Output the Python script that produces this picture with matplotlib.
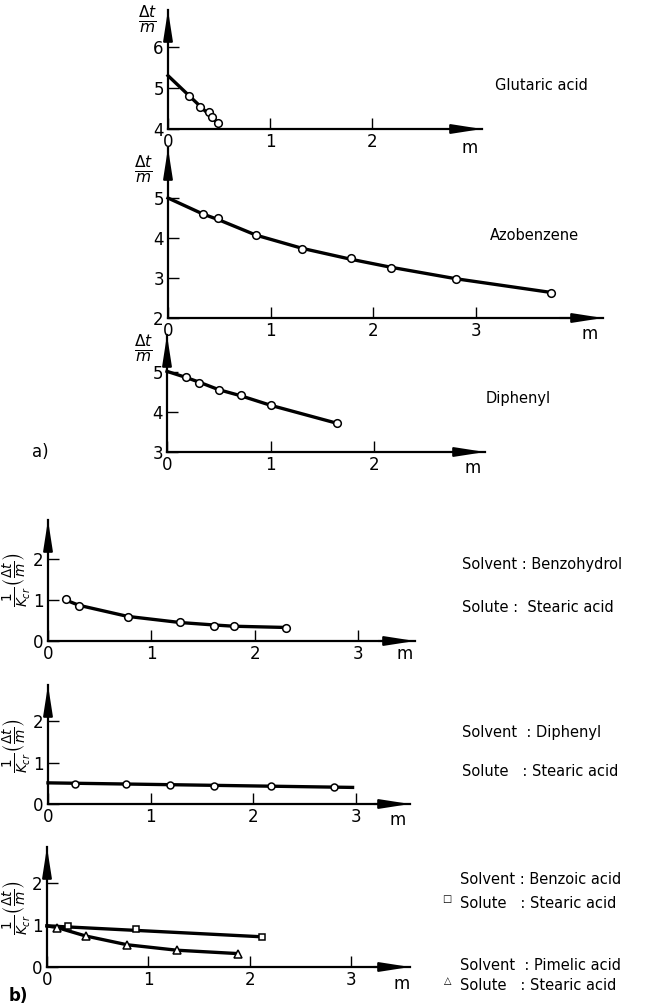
import numpy as np
import matplotlib
matplotlib.use('Agg')
import matplotlib.pyplot as plt

plt.rcParams['font.family'] = 'DejaVu Sans'
plt.rcParams['mathtext.fontset'] = 'dejavusans'

W, H = 661, 1007

# a) Glutaric acid
glu_m = [0.21, 0.31, 0.40, 0.43, 0.49]
glu_y = [4.80, 4.54, 4.41, 4.29, 4.15]
glu_line_m = [0.0, 0.50]
glu_line_y = [5.30, 4.12]

# a) Azobenzene
azo_m = [0.34, 0.49, 0.86, 1.31, 1.78, 2.17, 2.81, 3.73]
azo_y = [4.59, 4.49, 4.08, 3.73, 3.49, 3.26, 2.97, 2.63]
azo_line_m = [0.0, 0.34, 0.49, 0.86, 1.31, 1.78, 2.17, 2.81, 3.73]
azo_line_y = [5.00, 4.60, 4.46, 4.07, 3.74, 3.47, 3.27, 2.98, 2.64]

# a) Diphenyl
dip_m = [0.18, 0.31, 0.50, 0.71, 1.00, 1.64]
dip_y = [4.88, 4.74, 4.56, 4.43, 4.17, 3.72]
dip_line_m = [0.0, 0.18, 0.31, 0.50, 0.71, 1.00, 1.64]
dip_line_y = [5.02, 4.87, 4.75, 4.56, 4.41, 4.17, 3.72]

# b) Benzohydrol / stearic acid
bzh_m = [0.17, 0.30, 0.77, 1.28, 1.61, 1.80, 2.30]
bzh_y = [1.02, 0.85, 0.59, 0.46, 0.37, 0.37, 0.32]
bzh_line_m = [0.17, 0.30, 0.77, 1.28, 1.61, 1.80, 2.30]
bzh_line_y = [1.00, 0.87, 0.60, 0.45, 0.39, 0.36, 0.33]

# b) Diphenyl / stearic acid
dps_m = [0.26, 0.76, 1.19, 1.62, 2.17, 2.79]
dps_y = [0.48, 0.49, 0.47, 0.43, 0.43, 0.40]
dps_line_m = [0.0, 2.97]
dps_line_y = [0.51, 0.40]

# b) Benzoic acid / stearic acid (squares)
bzo_m = [0.21, 0.88, 2.12]
bzo_y = [0.98, 0.90, 0.72]
bzo_line_m = [0.0, 2.12]
bzo_line_y = [0.98, 0.72]

# b) Pimelic acid / stearic acid (triangles)
pim_m = [0.10, 0.38, 0.79, 1.28, 1.88]
pim_y = [0.94, 0.74, 0.52, 0.40, 0.32]
pim_line_m = [0.0, 0.10, 0.38, 0.79, 1.28, 1.88]
pim_line_y = [0.98, 0.94, 0.74, 0.53, 0.40, 0.32]

fig = plt.figure(figsize=(W / 100, H / 100), dpi=100)

HEAD = '-|>,head_length=1.8,head_width=0.28'


def panel(x0, yax, xtip, ytip, xmax, ymin, ymax, xticks, yticks):
    ax = fig.add_axes([x0 / W, 1 - yax / H, (xtip - x0) / W, (yax - ytip) / H])
    ax.set_xlim(0, xmax)
    ax.set_ylim(ymin, ymax)
    for s in ['top', 'right']:
        ax.spines[s].set_visible(False)
    for s in ['left', 'bottom']:
        ax.spines[s].set_linewidth(1.6)
    ax.set_xticks(xticks)
    ax.set_yticks(yticks)
    ax.tick_params(direction='in', length=8, width=1, labelsize=12, pad=3)
    ax.patch.set_alpha(0)
    # arrow heads at the ends of both axes
    ax.annotate('', xy=(1, 0), xytext=(0.9, 0), xycoords='axes fraction',
                arrowprops=dict(arrowstyle=HEAD, color='black', lw=1.5,
                                shrinkA=0, shrinkB=0),
                annotation_clip=False)
    ax.annotate('', xy=(0, 1), xytext=(0, 0.85), xycoords='axes fraction',
                arrowprops=dict(arrowstyle=HEAD, color='black', lw=1.5,
                                shrinkA=0, shrinkB=0),
                annotation_clip=False)
    return ax


def curve(ax, lm, ly, pm, py, marker='o', ms=5.5):
    ax.plot(lm, ly, color='black', lw=2.4, clip_on=False)
    ax.plot(pm, py, marker, color='black', mfc='white', mew=1.1, ms=ms,
            ls='none', clip_on=False, zorder=3)


def ftext(x, y, s, **kw):
    fig.text(x / W, 1 - y / H, s, va='center', **kw)


dtm = r'$\frac{\Delta t}{m}$'

# ---- a) panels
ax1 = panel(168, 129, 482, 10, 3.08, 4, 6.9, [0, 1, 2], [4, 5, 6])
curve(ax1, glu_line_m, glu_line_y, glu_m, glu_y)
ftext(148, 20, dtm, fontsize=16, ha='center')
ftext(470, 148, 'm', fontsize=12, ha='center')
ftext(495, 86, 'Glutaric acid', fontsize=10.5, ha='left')

ax2 = panel(168, 318, 603, 148, 4.24, 2, 6.25, [0, 1, 2, 3], [2, 3, 4, 5])
curve(ax2, azo_line_m, azo_line_y, azo_m, azo_y)
ftext(144, 170, dtm, fontsize=16, ha='center')
ftext(590, 334, 'm', fontsize=12, ha='center')
ftext(490, 235, 'Azobenzene', fontsize=10.5, ha='left')

ax3 = panel(167, 452, 485, 335, 3.07, 3, 5.93, [0, 1, 2], [3, 4, 5])
curve(ax3, dip_line_m, dip_line_y, dip_m, dip_y)
ftext(144, 349, dtm, fontsize=16, ha='center')
ftext(473, 468, 'm', fontsize=12, ha='center')
ftext(486, 398, 'Diphenyl', fontsize=10.5, ha='left')
ftext(40, 452, 'a)', fontsize=12, ha='center')

# ---- b) panels
ylab_b = r'$\frac{1}{K_{cr}}\left(\frac{\Delta t}{m}\right)$'

ax4 = panel(48, 641, 415, 520, 3.55, 0, 2.95, [0, 1, 2, 3], [0, 1, 2])
curve(ax4, bzh_line_m, bzh_line_y, bzh_m, bzh_y)
ftext(17, 580, ylab_b, fontsize=14, ha='center', rotation=90)
ftext(405, 654, 'm', fontsize=12, ha='center')
ftext(462, 565, 'Solvent : Benzohydrol', fontsize=10.5, ha='left')
ftext(462, 607, 'Solute :  Stearic acid', fontsize=10.5, ha='left')

ax5 = panel(48, 804, 410, 685, 3.53, 0, 2.87, [0, 1, 2, 3], [0, 1, 2])
curve(ax5, dps_line_m, dps_line_y, dps_m, dps_y, ms=5)
ftext(17, 746, ylab_b, fontsize=14, ha='center', rotation=90)
ftext(398, 820, 'm', fontsize=12, ha='center')
ftext(462, 732, 'Solvent  : Diphenyl', fontsize=10.5, ha='left')
ftext(462, 772, 'Solute   : Stearic acid', fontsize=10.5, ha='left')

ax6 = panel(47, 967, 410, 847, 3.58, 0, 2.86, [0, 1, 2, 3], [0, 1, 2])
curve(ax6, bzo_line_m, bzo_line_y, bzo_m, bzo_y, marker='s', ms=5)
curve(ax6, pim_line_m, pim_line_y, pim_m, pim_y, marker='^', ms=6)
ftext(17, 908, ylab_b, fontsize=14, ha='center', rotation=90)
ftext(402, 984, 'm', fontsize=12, ha='center')
ftext(18, 996, 'b)', fontsize=12, ha='center', fontweight='bold')
ftext(460, 880, 'Solvent : Benzoic acid', fontsize=10.5, ha='left')
ftext(460, 904, 'Solute   : Stearic acid', fontsize=10.5, ha='left')
ftext(460, 965, 'Solvent  : Pimelic acid', fontsize=10.5, ha='left')
ftext(460, 986, 'Solute   : Stearic acid', fontsize=10.5, ha='left')
ftext(447, 899, '\u25a1', fontsize=7, ha='center')
ftext(448, 981, '\u25b3', fontsize=7, ha='center')

fig.savefig('out.png', dpi=100)
